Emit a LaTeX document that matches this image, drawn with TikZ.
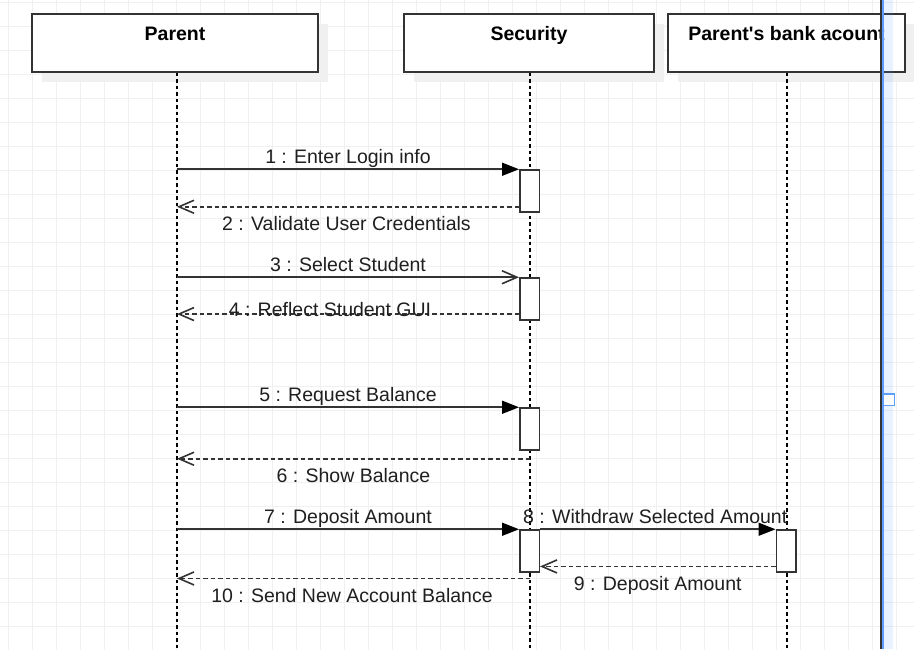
\documentclass[tikz,border=0pt]{standalone}
\usepackage{fontspec}
\setmainfont{Liberation Sans}[Ligatures=TeXOff]
\usetikzlibrary{arrows.meta,positioning,shadows}
\definecolor{ink}{HTML}{333333}
\definecolor{handle}{HTML}{5C9DFF}
\tikzset{
	gridline/.style={draw=black!6, line width=1pt},
	lifehead/.style={draw=ink, fill=white, line width=1.4pt, minimum height=58pt, inner xsep=0pt, inner ysep=0pt,
		text height=26.7pt, text depth=31.3pt, font=\bfseries\fontsize{19.5}{23}\selectfont,
		drop shadow={shadow xshift=10pt, shadow yshift=-10pt, fill=black!6, opacity=1}},
	lifeline/.style={draw=black, line width=1.4pt, dash pattern=on 3.5pt off 3pt},
	actbox/.style={draw=ink, fill=white, line width=1.5pt, minimum width=19.5pt, minimum height=42pt, inner sep=0pt},
	call/.style={draw=ink, line width=1.6pt, -{Triangle[length=17pt, width=13pt, color=black]}},
	callopen/.style={draw=ink, line width=1.6pt, -{Straight Barb[length=15pt, width=13pt]}},
	reply/.style={draw=ink, line width=1.6pt, dash pattern=on 4.5pt off 3pt, -{Straight Barb[length=15pt, width=13pt]}},
	msgabove/.style={midway, anchor=base, yshift=5.5pt, inner sep=0pt, text=black!88, font=\fontsize{19.5}{23}\selectfont},
	msgbelow/.style={msgabove, yshift=-29.5pt},
}
\begin{document}
\begin{tikzpicture}[x=1pt, y=-1pt]
			%%%%% START %%%%%
			\useasboundingbox (0, 0) rectangle (914, 649);
			\fill[white] (0, 0) rectangle (914, 649);
			
			\begin{scope}
				\clip (0, 0) rectangle (914, 649);
				\begin{scope}[shift={(8.4, 2.5)}]
					\draw[gridline, step=24pt] (-24, -24) grid (936, 672);
				\end{scope}
			\end{scope}
			
			\node[lifehead, minimum width=286pt] (parent) at (175, 43) {Parent};
			\node[lifehead, minimum width=250pt] (security) at (529, 43) {Security};
			\node[lifehead, minimum width=237pt] (bank) at (786.5, 43) {Parent's bank acount};
			
			\coordinate (parentend) at (177, 649);
			\coordinate (securityend) at (530, 649);
			\coordinate (bankend) at (787, 649);
			
			\draw[lifeline] (parentend |- parent.south) -- (parentend);
			\draw[lifeline] (securityend |- security.south) -- (securityend);
			\draw[lifeline] (bankend |- bank.south) -- (bankend);
			
			\node[actbox] (act1) at (529.5, 191) {};
			\node[actbox] (act2) at (529.5, 299) {};
			\node[actbox] (act3) at (529.5, 429) {};
			\node[actbox] (act4) at (529.5, 551) {};
			\node[actbox] (act5) at (786, 551) {};
			
			\coordinate (ret2) at ([yshift=6pt]act1.south west);
			\coordinate (ret4) at ([yshift=6.7pt]act2.south west);
			\coordinate (ret6) at ([yshift=-8pt]act3.south -| securityend);
			\coordinate (ret9) at ([yshift=6.3pt]act5.south west);
			\coordinate (ret10) at ([yshift=-5.7pt]act4.south -| securityend);
			
			\draw[call] (act1.north west -| parentend) -- node[msgabove] {1 : Enter Login info} (act1.north west);
			\draw[reply] (ret2) -- node[msgbelow, xshift=-1.5pt] {2 : Validate User Credentials} (ret2 -| parentend);
			
			\draw[callopen] (act2.north west -| parentend) -- node[msgabove] {3 : Select Student} (act2.north west);
			\draw[reply] (ret4) -- node[msgabove, yshift=-7.5pt, xshift=-18pt] {4 : Reflect Student GUI} (ret4 -| parentend);
			
			\draw[call] (act3.north west -| parentend) -- node[msgabove] {5 : Request Balance} (act3.north west);
			\draw[reply] (ret6) -- node[msgbelow] {6 : Show Balance} (ret6 -| parentend);
			
			\draw[call] (act4.north west -| parentend) -- node[msgabove] {7 : Deposit Amount} (act4.north west);
			\draw[call] (act4.north east) -- node[msgabove, xshift=-2.5pt] {8 : Withdraw Selected Amount} (act5.north west);
			\draw[reply] (ret9) -- node[msgbelow] {9 : Deposit Amount} (ret9 -| act4.east);
			\draw[reply] (ret10) -- node[msgbelow, xshift=-1.5pt] {10 : Send New Account Balance} (ret10 -| parentend);
			
			% page edge marker
			\fill[handle, opacity=0.13] (883, 0) rectangle (893, 649);
			\draw[ink, line width=2pt] (881, 0) -- (881, 649);
			\draw[handle, line width=1.5pt] (882.8, 0) -- (882.8, 649);
			\draw[handle, fill=white, line width=1.5pt] (883.5, 394) rectangle (894.5, 405.5);
			
			%%%%% END %%%%%
\end{tikzpicture}
\end{document}
